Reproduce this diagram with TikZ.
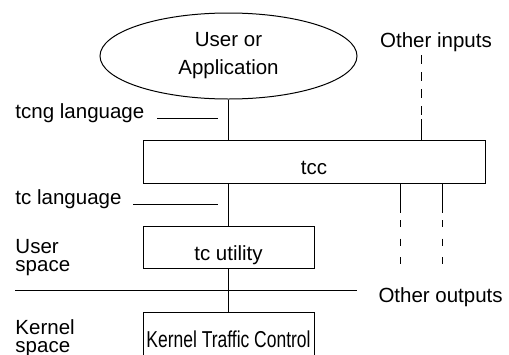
\documentclass[tikz,border=0pt]{standalone}
\usepackage{fontspec}
\setmainfont{Liberation Sans}
\usetikzlibrary{shapes.geometric}

\begin{document}
\begin{tikzpicture}[x=1pt,y=-1pt,line width=1pt]
        \edef\sizefont{20.5}
        \tikzstyle{txt}=[font=\fontsize{\sizefont}{28}\selectfont,inner sep=0pt]
        \tikzstyle{side}=[txt,font=\fontsize{\sizefont}{18}\selectfont,align=left,anchor=base west]
        \tikzstyle{box}=[draw,txt,text height=25pt,text depth=0pt]
        \tikzstyle{dashin}=[dash pattern=on 9pt off 8pt]
        \tikzstyle{dashout}=[dash pattern=on 7pt off 11.5pt]

        \useasboundingbox (0,0) rectangle (509,354);
        \clip (0,0) rectangle (509,354);

        % boxes
        \node [draw,ellipse,txt,align=center,minimum width=257pt,minimum height=86pt] (app) at (228.5,56) {User or\\Application};
        \node [box,minimum width=342pt,minimum height=42.5pt] (tcc) at (314,162) {tcc};
        \node [box,minimum width=171pt,minimum height=42.5pt] (util) at (228.5,247.5) {tc utility};
        \node [draw,txt,minimum width=171pt,minimum height=70pt,anchor=north] (kern) at (228.5,312)
            {\raisebox{16pt}{\fontsize{23}{28}\selectfont\scalebox{0.76}[1]{Kernel Traffic Control}}};

        % labels
        \node [txt,anchor=base] (oin) at (436,47) {Other inputs};
        \node [txt,anchor=base west] (oout) at (378,302) {Other outputs};
        \node [txt,anchor=base west] (tcng) at (15,118) {tcng language};
        \node [txt,anchor=base west] (tcl) at (15,204) {tc language};
        \node [side] (uspace) at (15,271) {User\\space};
        \node [side] (kspace) at (15,352) {Kernel\\space};

        % label leaders
        \coordinate (tcngA) at (157,118);
        \coordinate (tcngB) at (218,118);
        \coordinate (tclA) at (133,204);
        \coordinate (tclB) at (218,204);
        \draw (tcngA) -- (tcngB);
        \draw (tclA) -- (tclB);

        % user / kernel border
        \coordinate (bordA) at (15,290);
        \coordinate (bordB) at (357,290);
        \draw (bordA) -- (bordB);

        % main flow
        \draw (app.south) -- (app.south |- tcc.north);
        \draw (util.north |- tcc.south) -- (util.north);
        \draw (util.south) -- (kern.north);

        % other inputs
        \coordinate (inA) at (421,55);
        \coordinate (inB) at (421,119);
        \draw [dashin] (inA) -- (inB);
        \draw (inB) -- (inB |- tcc.north);

        % other outputs
        \foreach \x/\n in {400/1, 442/2} {
            \coordinate (out\n A) at (\x,213);
            \coordinate (out\n B) at (\x,220);
            \coordinate (out\n C) at (\x,265);
            \draw (out\n A |- tcc.south) -- (out\n A);
            \draw [dashout] (out\n B) -- (out\n C);
        };

\end{tikzpicture}
\end{document}
